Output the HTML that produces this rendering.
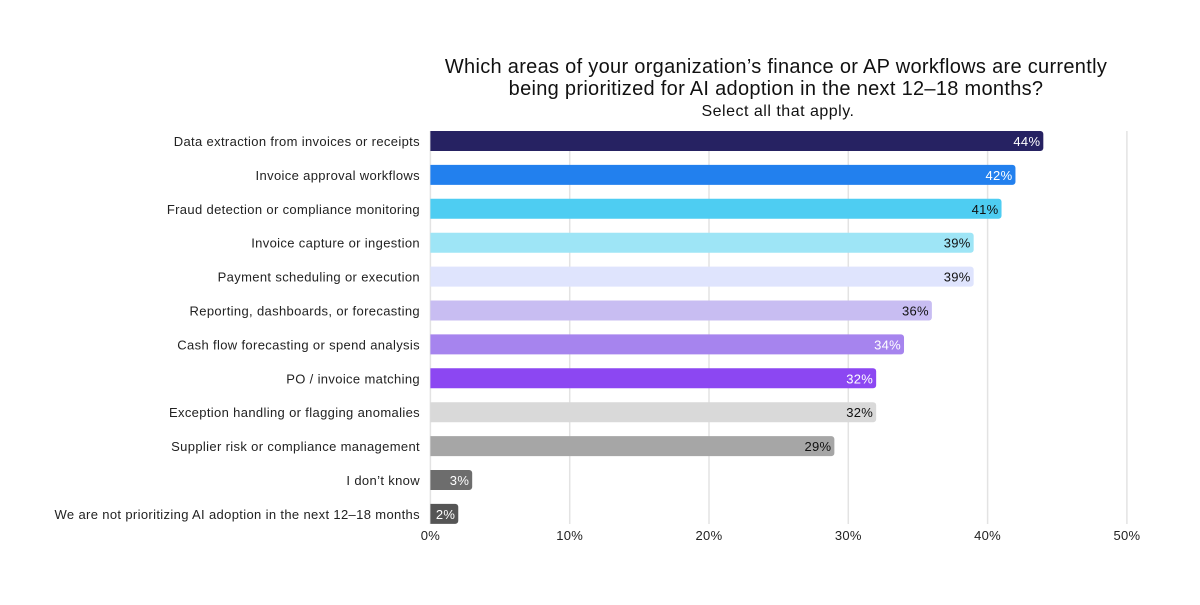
<!DOCTYPE html>
<html><head><meta charset="utf-8"><style>
body{margin:0;background:#fff;font-family:"Liberation Sans",sans-serif;}
svg text{font-family:"Liberation Sans",sans-serif;}
</style></head><body>
<svg width="1200" height="600">
<text x="776" y="73" text-anchor="middle" font-size="20" letter-spacing="0.3" fill="#111">Which areas of your organization’s finance or AP workflows are currently</text>
<text x="776" y="95" text-anchor="middle" font-size="20" letter-spacing="0.3" fill="#111">being prioritized for AI adoption in the next 12–18 months?</text>
<text x="778" y="116" text-anchor="middle" font-size="16" letter-spacing="0.5" fill="#111">Select all that apply.</text>
<g id="grid"></g><g id="bars"></g><g id="labels"></g>
</svg>
<script>
const categories=["Data extraction from invoices or receipts","Invoice approval workflows","Fraud detection or compliance monitoring","Invoice capture or ingestion","Payment scheduling or execution","Reporting, dashboards, or forecasting","Cash flow forecasting or spend analysis","PO / invoice matching","Exception handling or flagging anomalies","Supplier risk or compliance management","I don’t know","We are not prioritizing AI adoption in the next 12–18 months"];
const values=[44,42,41,39,39,36,34,32,32,29,3,2];
const colors=["#262262","#2280ee","#4ecdf2","#9ee5f6","#dfe4fd","#c8bdf2","#a684ee","#8c47f2","#d9d9d9","#a6a6a6","#6d6d6d","#555555"];
const textColors=["#fff","#fff","#111","#111","#111","#111","#fff","#fff","#111","#111","#fff","#fff"];
const ticks=[0,10,20,30,40,50];
const NS="http://www.w3.org/2000/svg";
const x=v=>430.4+v*13.93;
const y=i=>131+i*33.9;
function mk(tag,attrs,parent){const e=document.createElementNS(NS,tag);for(const k in attrs)e.setAttribute(k,attrs[k]);document.getElementById(parent).appendChild(e);return e;}
ticks.forEach(t=>{
 const l=mk('line',{x1:x(t),x2:x(t),y1:131,y2:524,stroke:'#e3e3e3','stroke-width':1.5},'grid');
 
 
 const tx=mk('text',{x:x(t),y:540,'text-anchor':'middle','font-size':13,'letter-spacing':0.3,fill:'#222'},'grid');
 tx.textContent=t+'%';
 
 
});
categories.forEach((c,i)=>{
 const w=x(values[i])-x(0);
 const r=mk('path',{d:`M${x(0)},${y(i)} h${w-3} a3,3 0 0 1 3,3 v14 a3,3 0 0 1 -3,3 h${-(w-3)} z`,fill:colors[i]},'bars');
 
 
 const v=mk('text',{x:x(values[i])-3,y:y(i)+15,'text-anchor':'end','font-size':13,'letter-spacing':0.3,fill:textColors[i]},'bars');
 v.textContent=values[i]+'%';
 
 
 const lb=mk('text',{x:420,y:y(i)+15,'text-anchor':'end','font-size':13,'letter-spacing':0.35,fill:'#222'},'labels');
 lb.textContent=c;
 
 
});
</script>
</body></html>
